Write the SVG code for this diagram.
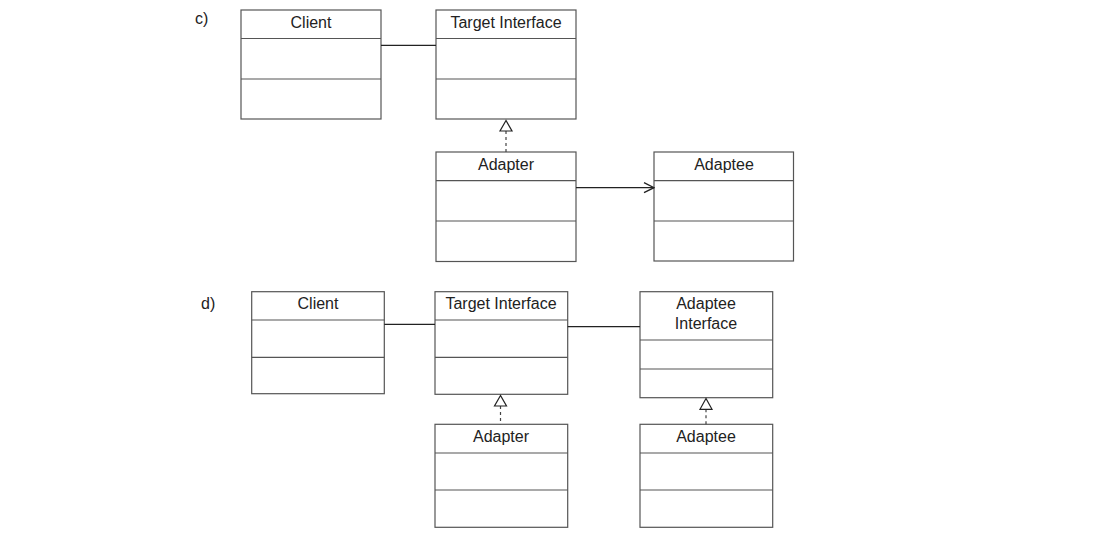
<svg xmlns="http://www.w3.org/2000/svg" width="1100" height="547" viewBox="0 0 1100 547">
<defs>
<style>
.box{fill:#fff;stroke:#555;stroke-width:1.2}
.div{stroke:#555;stroke-width:1.2}
.t{font-family:"Liberation Sans",Arial,sans-serif;font-size:16px;fill:#222;text-anchor:middle}
.lab{font-family:"Liberation Sans",Arial,sans-serif;font-size:16px;fill:#222}
.ln{stroke:#222;stroke-width:1.2;fill:none}
.dash{stroke:#444;stroke-width:1.2;stroke-dasharray:3 3;fill:none}
.tri{fill:#fff;stroke:#222;stroke-width:1.2}
</style>
<marker id="open" viewBox="0 0 12 12" refX="11" refY="6" markerWidth="12" markerHeight="12" markerUnits="userSpaceOnUse" orient="auto">
<path d="M1,1 L11,6 L1,11" fill="none" stroke="#222" stroke-width="1.3"/>
</marker>
</defs>
<rect width="1100" height="547" fill="#fff"/>
<text class="lab" x="195" y="24">c)</text>
<text class="lab" x="201" y="309">d)</text>

<g id="c-client">
<rect class="box" x="241" y="10" width="140" height="109"/>
<line class="div" x1="241" y1="38.5" x2="381" y2="38.5"/>
<line class="div" x1="241" y1="79" x2="381" y2="79"/>
<text class="t" x="311" y="28">Client</text>
</g>
<g id="c-target">
<rect class="box" x="436" y="10" width="140" height="109"/>
<line class="div" x1="436" y1="38.5" x2="576" y2="38.5"/>
<line class="div" x1="436" y1="79" x2="576" y2="79"/>
<text class="t" x="506" y="28">Target Interface</text>
</g>
<g id="c-adapter">
<rect class="box" x="436" y="152" width="140" height="109.5"/>
<line class="div" x1="436" y1="180.7" x2="576" y2="180.7"/>
<line class="div" x1="436" y1="221" x2="576" y2="221"/>
<text class="t" x="506" y="170">Adapter</text>
</g>
<g id="c-adaptee">
<rect class="box" x="654" y="152" width="139.5" height="109"/>
<line class="div" x1="654" y1="180.7" x2="793.5" y2="180.7"/>
<line class="div" x1="654" y1="221" x2="793.5" y2="221"/>
<text class="t" x="724" y="170">Adaptee</text>
</g>

<g id="d-client">
<rect class="box" x="251.7" y="291.7" width="132.6" height="102"/>
<line class="div" x1="251.7" y1="320" x2="384.3" y2="320"/>
<line class="div" x1="251.7" y1="357.3" x2="384.3" y2="357.3"/>
<text class="t" x="318" y="309">Client</text>
</g>
<g id="d-target">
<rect class="box" x="435" y="291.7" width="132.7" height="102.6"/>
<line class="div" x1="435" y1="320" x2="567.7" y2="320"/>
<line class="div" x1="435" y1="357.3" x2="567.7" y2="357.3"/>
<text class="t" x="501" y="309">Target Interface</text>
</g>
<g id="d-adaptee-interface">
<rect class="box" x="640" y="291.7" width="132.7" height="106"/>
<line class="div" x1="640" y1="340" x2="772.7" y2="340"/>
<line class="div" x1="640" y1="369" x2="772.7" y2="369"/>
<text class="t" x="706" y="309">Adaptee</text>
<text class="t" x="706" y="328.5">Interface</text>
</g>
<g id="d-adapter">
<rect class="box" x="435" y="424.3" width="132.7" height="103"/>
<line class="div" x1="435" y1="453" x2="567.7" y2="453"/>
<line class="div" x1="435" y1="490" x2="567.7" y2="490"/>
<text class="t" x="501" y="442">Adapter</text>
</g>
<g id="d-adaptee">
<rect class="box" x="640" y="424.3" width="132.7" height="103"/>
<line class="div" x1="640" y1="453" x2="772.7" y2="453"/>
<line class="div" x1="640" y1="490" x2="772.7" y2="490"/>
<text class="t" x="706" y="442">Adaptee</text>
</g>

<g id="connectors">
<line class="ln" x1="381" y1="45.3" x2="436" y2="45.3"/>
<line class="dash" x1="506" y1="131" x2="506" y2="152"/>
<polygon class="tri" points="506,120.5 500,131 512,131"/>
<line class="ln" x1="576" y1="187.7" x2="654" y2="187.7" marker-end="url(#open)"/>
<line class="ln" x1="384.3" y1="324.3" x2="435" y2="324.3"/>
<line class="ln" x1="567.7" y1="326.7" x2="640" y2="326.7"/>
<line class="dash" x1="500.5" y1="406" x2="500.5" y2="424.3"/>
<polygon class="tri" points="500.5,395.5 494.5,406 506.5,406"/>
<line class="dash" x1="706" y1="409.3" x2="706" y2="424.3"/>
<polygon class="tri" points="706,398.5 700,409.3 712,409.3"/>
</g>
</svg>
